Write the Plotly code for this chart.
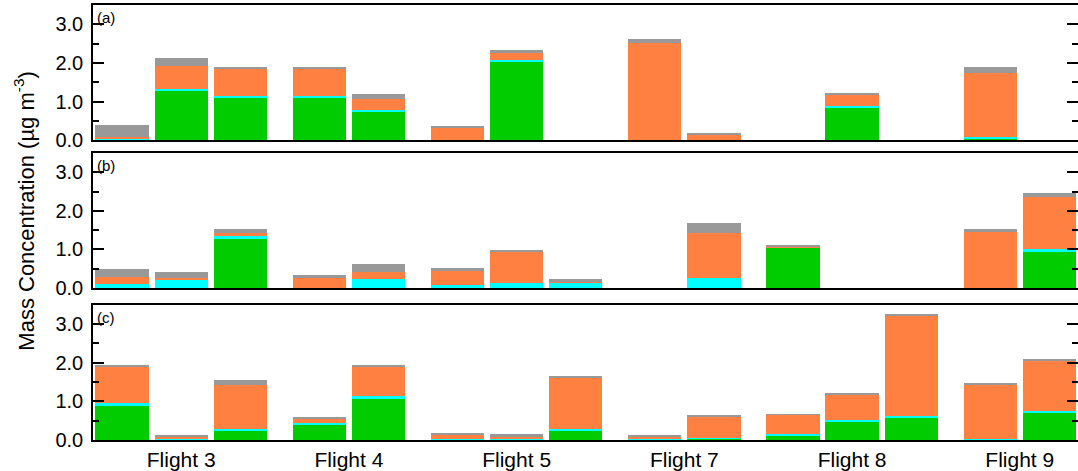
import plotly.graph_objects as go

# ---------------- data ----------------
flights = ["Flight 3", "Flight 4", "Flight 5", "Flight 7", "Flight 8", "Flight 9"]
bars_per_flight = [3, 2, 3, 2, 3, 2]
panel_labels = ["(a)", "(b)", "(c)"]
y_tickvals = [0, 1, 2, 3]
y_ticktext = ["0.0", "1.0", "2.0", "3.0"]
species = ["green", "cyan", "orange", "gray"]

# order of bars: F3-1,F3-2,F3-3,F4-1,F4-2,F5-1,F5-2,F5-3,F7-1,F7-2,F8-1,F8-2,F8-3,F9-1,F9-2
green_a = [0.00, 1.28, 1.12, 1.12, 0.74, 0.01, 2.02, 0, 0, 0.01, 0, 0.85, 0, 0.06, 0]
cyan_a = [0.03, 0.04, 0.02, 0.02, 0.04, 0.01, 0.06, 0, 0, 0.01, 0, 0.05, 0, 0.04, 0]
orange_a = [0.07, 0.61, 0.70, 0.70, 0.30, 0.30, 0.19, 0, 2.52, 0.13, 0, 0.27, 0, 1.63, 0]
gray_a = [0.30, 0.20, 0.07, 0.07, 0.11, 0.05, 0.07, 0, 0.10, 0.05, 0, 0.06, 0, 0.17, 0]

green_b = [0, 0, 1.27, 0, 0, 0, 0, 0, 0, 0, 1.04, 0, 0, 0.01, 0.96]
cyan_b = [0.10, 0.22, 0.09, 0.01, 0.23, 0.08, 0.13, 0.14, 0, 0.265, 0.02, 0, 0, 0, 0.04]
orange_b = [0.175, 0.05, 0.07, 0.255, 0.18, 0.35, 0.81, 0.04, 0, 1.155, 0.01, 0, 0, 1.44, 1.36]
gray_b = [0.215, 0.155, 0.09, 0.07, 0.22, 0.08, 0.03, 0.05, 0, 0.26, 0.04, 0, 0, 0.08, 0.11]

green_c = [0.89, 0.02, 0.26, 0.40, 1.08, 0.02, 0.02, 0.26, 0.02, 0.04, 0.12, 0.49, 0.58, 0.03, 0.73]
cyan_c = [0.07, 0.02, 0.04, 0.04, 0.06, 0.01, 0.01, 0.03, 0.01, 0.01, 0.04, 0.03, 0.04, 0.01, 0.04]
orange_c = [0.94, 0.06, 1.14, 0.12, 0.77, 0.115, 0.08, 1.33, 0.07, 0.58, 0.50, 0.67, 2.61, 1.40, 1.29]
gray_c = [0.04, 0.045, 0.11, 0.045, 0.05, 0.04, 0.05, 0.03, 0.036, 0.037, 0.02, 0.02, 0.05, 0.02, 0.02]

panels = [
    [green_a, cyan_a, orange_a, gray_a],
    [green_b, cyan_b, orange_b, gray_b],
    [green_c, cyan_c, orange_c, gray_c],
]

# ---------------- styling ----------------
colors = {"green": "#00CC00", "cyan": "#00FFFF", "orange": "#FF8040", "gray": "#999999"}
FONT = "Liberation Sans, Arial, Helvetica, sans-serif"
GROUP_GAP = 1 / 3

# x positions: one unit per bar slot, extra gap between flights
xpos, centers = [], []
for gi, n in enumerate(bars_per_flight):
    start = len(xpos) + gi * GROUP_GAP
    xs = [start + k for k in range(n)]
    xpos.extend(xs)
    centers.append(sum(xs) / n)

fig = go.Figure()
for pi, comps in enumerate(panels):
    ax = "" if pi == 0 else str(pi + 1)
    for name, vals in zip(species, comps):
        fig.add_trace(go.Bar(
            x=xpos, y=vals, width=0.9, name=name,
            marker=dict(color=colors[name], line=dict(width=0)),
            xaxis="x" + ax, yaxis="y" + ax, showlegend=False,
        ))
    # empty trace so the right-hand tick axis of this panel is drawn
    fig.add_trace(go.Scatter(x=[None], y=[None], xaxis="x" + ax, yaxis="y" + str(pi + 4),
                             showlegend=False, hoverinfo="skip"))

# domains (fractions of plot height)
domains = [[0.6888, 1.0], [0.3493, 0.6598], [0.0, 0.3112]]
xrange_ = [-0.49, 16.15]

layout = dict(
    width=1078, height=471,
    margin=dict(l=93, r=0, t=5, b=28),
    barmode="stack", bargap=0,
    paper_bgcolor="white", plot_bgcolor="white",
    font=dict(family=FONT, color="black"),
    annotations=[],
)
for pi in range(3):
    ax = "" if pi == 0 else str(pi + 1)
    last = pi == 2
    layout["xaxis" + ax] = dict(
        domain=[0, 1], range=xrange_, anchor="y" + ax,
        showline=True, linecolor="black", linewidth=1.5, mirror=True,
        showgrid=False, zeroline=False, ticks="",
        tickvals=centers if last else [], ticktext=flights if last else [],
        showticklabels=last, tickfont=dict(size=21, family=FONT, color="black"),
    )
    layout["yaxis" + ax] = dict(
        domain=domains[pi], range=[0, 3.5], anchor="x" + ax,
        showline=True, linecolor="black", linewidth=1.5, mirror=False,
        showgrid=False, zeroline=False,
        tickvals=y_tickvals, ticktext=y_ticktext,
        ticks="inside", ticklen=11, tickwidth=1.5, tickcolor="black",
        minor=dict(dtick=0.5, tick0=0, ticks="inside", ticklen=6, tickwidth=1.5, tickcolor="black"),
        tickfont=dict(size=20, family=FONT, color="black"),
        ticklabelstandoff=4,
    )
    # right-side ticks only (no visible frame line, as in the cropped original)
    layout["yaxis" + str(pi + 4)] = dict(
        domain=domains[pi], range=[0, 3.5], anchor="x" + ax, overlaying="y" + ax,
        side="right", showline=False, showgrid=False, zeroline=False,
        tickvals=y_tickvals, showticklabels=False,
        ticks="inside", ticklen=11, tickwidth=1.5, tickcolor="black",
        minor=dict(dtick=0.5, tick0=0, ticks="inside", ticklen=6, tickwidth=1.5, tickcolor="black"),
    )
    layout["annotations"].append(dict(
        text=panel_labels[pi], xref="x" + ax + " domain", yref="y" + ax + " domain",
        x=0.002, y=0.985, xanchor="left", yanchor="top", showarrow=False,
        font=dict(size=15, family=FONT, color="black"),
    ))

layout["annotations"].append(dict(
    text="Mass Concentration (µg m<sup>-3</sup>)", xref="paper", yref="paper",
    x=-0.07, y=0.525, xanchor="center", yanchor="middle", textangle=-90,
    showarrow=False, font=dict(size=22, family=FONT, color="black"),
))

fig.update_layout(**layout)
fig.write_html(
    "out.html",
    config={"displayModeBar": False},
    post_script="document.body.style.margin='0';document.body.style.overflow='hidden';",
)
